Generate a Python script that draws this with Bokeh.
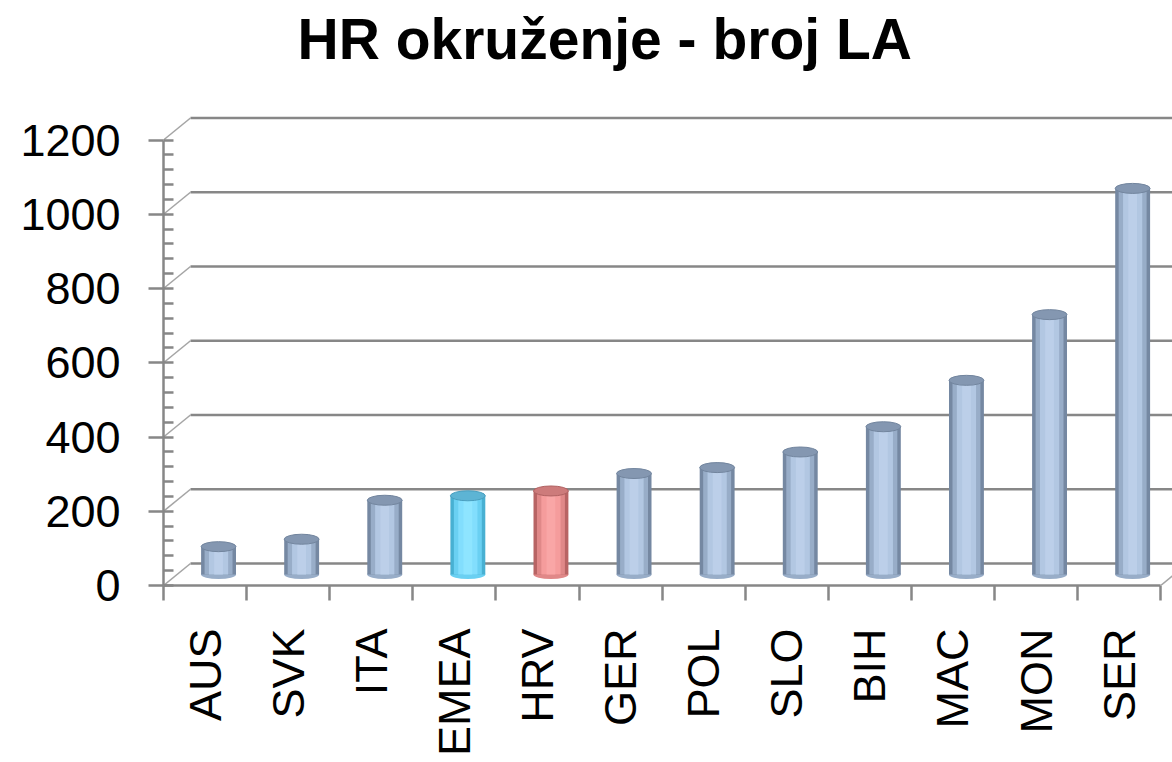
import math
from bokeh.plotting import figure
from bokeh.models import Range1d, FixedTicker, Title
from bokeh.embed import file_html
from bokeh.resources import INLINE

# ---------------- data ----------------
categories = ["AUS", "SVK", "ITA", "EMEA", "HRV", "GER", "POL", "SLO", "BIH", "MAC", "MON", "SER"]
values = [75, 95, 200, 212, 225, 272, 288, 330, 398, 523, 700, 1040]
y_ticks = [0, 200, 400, 600, 800, 1000, 1200]
y_minor_ticks = list(range(0, 1201, 40))
title_text = "HR okruženje - broj LA"

# ---------------- style / geometry ----------------
PX_PER_CAT = 83.1
PX_PER_UNIT = 0.37125
DEPTH_PX_X = 27
DEPTH_PX_Y = 22
DX = DEPTH_PX_X / PX_PER_CAT
DY = DEPTH_PX_Y / PX_PER_UNIT

W, H = 1172, 762
BL, BR, BT, BB = 163, 0, 115, 177
frame_w = W - BL - BR
frame_h = H - BT - BB
x_end = -0.5 + frame_w / PX_PER_CAT
y_end = frame_h / PX_PER_UNIT

palettes = {
    "default": dict(edge="#7588a2", mid="#98adc8", light="#b2c7e2", hi="#bccfe9", top="#8497b1", top_line="#72859e"),
    "EMEA": dict(edge="#48b0d2", mid="#6ad0f2", light="#82defd", hi="#8ee5ff", top="#5db4d4", top_line="#4a9fbf"),
    "HRV": dict(edge="#b86464", mid="#e08888", light="#f59c9c", hi="#f9a6a6", top="#cd7b7b", top_line="#b06262"),
}
pal = [palettes.get(c, palettes["default"]) for c in categories]
xs = list(range(len(categories)))

GRID_COLOR = "#878787"
FONT = "Liberation Sans"

p = figure(width=W, height=H,
           x_range=Range1d(-0.5, x_end), y_range=Range1d(0, y_end),
           output_backend="svg", toolbar_location=None,
           min_border_left=BL, min_border_right=BR, min_border_top=BT, min_border_bottom=BB)
p.title = None
p.outline_line_color = None
p.xgrid.visible = False
p.ygrid.visible = False
p.background_fill_color = "white"

p.extra_x_ranges = {"back": Range1d(-0.5 - DX, x_end - DX),
                    "mid": Range1d(-0.5 - DX / 2, x_end - DX / 2)}
p.extra_y_ranges = {"back": Range1d(-DY, y_end - DY),
                    "mid": Range1d(-DY / 2, y_end - DY / 2)}

# spacer between title and plot, then the title itself
p.add_layout(Title(text=" ", text_font_size="1px", standoff=42), "above")
p.add_layout(Title(text=title_text, text_font=FONT, text_font_size="57px",
                   text_font_style="bold", text_color="black",
                   align="left", offset=134, standoff=0), "above")

# back wall gridlines
n = len(y_ticks)
p.segment(x0=[-0.5] * n, y0=y_ticks, x1=[x_end + 1] * n, y1=y_ticks,
          x_range_name="back", y_range_name="back",
          line_color=GRID_COLOR, line_width=2.5)
# side wall diagonals
p.segment(x0=[-0.5 - DX] * n, y0=[v - DY for v in y_ticks], x1=[-0.5] * n, y1=y_ticks,
          x_range_name="back", y_range_name="back",
          line_color="#a5a5a5", line_width=1.6)
# right floor edge diagonal
last = len(categories) - 0.5
p.segment(x0=[last - DX], y0=[-DY], x1=[last], y1=[0],
          x_range_name="back", y_range_name="back",
          line_color="#a5a5a5", line_width=1.6)

# cylinders
BW = 0.42
kw = dict(x_range_name="mid", y_range_name="mid")
p.ellipse(x=xs, y=[0] * len(xs), width=BW, height=9, height_units="screen",
          fill_color=[q["mid"] for q in pal], line_color=None, **kw)
p.vbar(x=xs, top=values, bottom=0, width=BW, fill_color=[q["edge"] for q in pal], line_color=None, **kw)
p.vbar(x=xs, top=values, bottom=0, width=BW * 0.8, fill_color=[q["mid"] for q in pal], line_color=None, **kw)
p.vbar(x=xs, top=values, bottom=0, width=BW * 0.55, fill_color=[q["light"] for q in pal], line_color=None, **kw)
p.vbar(x=xs, top=values, bottom=0, width=BW * 0.25, fill_color=[q["hi"] for q in pal], line_color=None, **kw)
p.ellipse(x=xs, y=values, width=BW, height=10, height_units="screen",
          fill_color=[q["top"] for q in pal], line_color=[q["top_line"] for q in pal],
          line_width=1, **kw)

# y axis (front edge)
ya = p.yaxis[0]
ya.ticker = FixedTicker(ticks=y_ticks, minor_ticks=y_minor_ticks)
ya.bounds = (0, 1200)
ya.axis_line_color = GRID_COLOR
ya.axis_line_width = 2.5
ya.major_tick_line_color = GRID_COLOR
ya.major_tick_line_width = 2.5
ya.major_tick_out = 15
ya.major_tick_in = 0
ya.minor_tick_line_color = GRID_COLOR
ya.minor_tick_line_width = 2.5
ya.minor_tick_in = 10
ya.minor_tick_out = 0
ya.major_label_text_font = FONT
ya.major_label_text_font_size = "45px"
ya.major_label_text_color = "black"
ya.major_label_standoff = 28

# x axis (front floor edge)
xa = p.xaxis[0]
xa.ticker = FixedTicker(ticks=xs, minor_ticks=[i - 0.5 for i in range(len(categories) + 1)])
xa.bounds = (-0.5, len(categories) - 0.5)
xa.major_label_overrides = {i: c for i, c in enumerate(categories)}
xa.major_label_orientation = math.pi / 2
xa.axis_line_color = GRID_COLOR
xa.axis_line_width = 2.5
xa.major_tick_out = 0
xa.major_tick_in = 0
xa.minor_tick_line_color = GRID_COLOR
xa.minor_tick_line_width = 2.5
xa.minor_tick_out = 15
xa.minor_tick_in = 0
xa.major_label_text_font = FONT
xa.major_label_text_font_size = "45px"
xa.major_label_text_color = "black"
xa.major_label_standoff = 28

open("out.html", "w").write(file_html(p, INLINE))
